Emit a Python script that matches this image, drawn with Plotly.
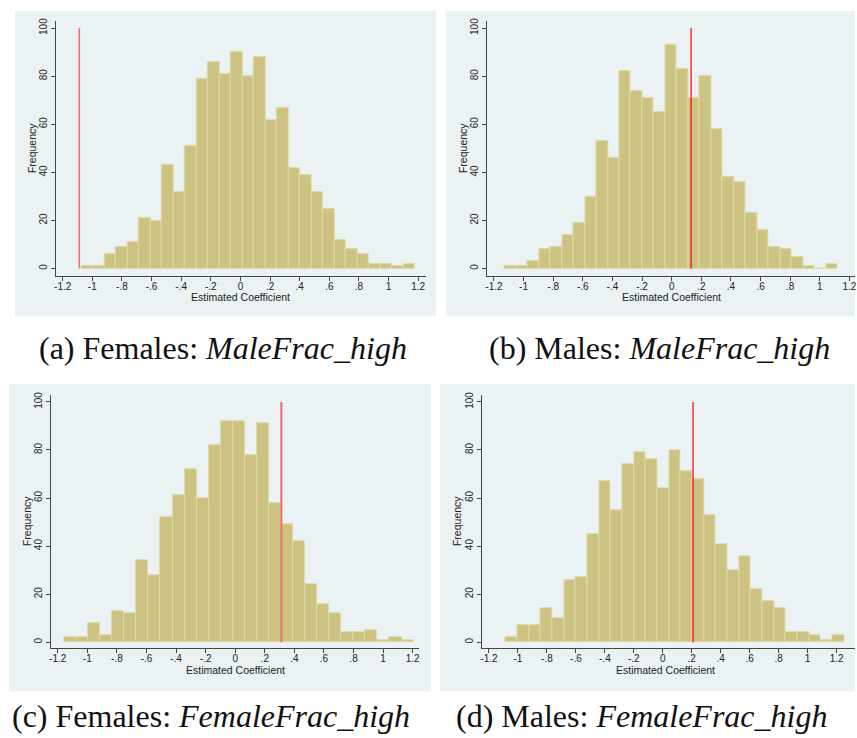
import plotly.graph_objects as go

W, H = 857, 738

# ---------------- data ----------------
counts_a = [1, 1, 6, 9, 11, 21, 20, 43, 32, 51, 79, 86, 81, 90, 80, 88, 62, 67, 42, 39,
            32, 25, 12, 8, 6, 2, 2, 1, 2]
counts_b = [1, 1, 3, 8, 9, 14, 19, 30, 53, 46, 82, 74, 71, 65, 93, 83, 71, 80, 58, 38,
            36, 23, 16, 9, 8, 5, 1, 0, 2]
counts_c = [2, 2, 8, 3, 13, 12, 34, 28, 52, 61, 72, 60, 82, 92, 92, 78, 91, 58, 49, 42,
            24, 16, 12, 4, 4, 5, 1, 2, 1]
counts_d = [2, 7, 7, 14, 10, 26, 27, 45, 67, 55, 74, 79, 76, 64, 80, 71, 68, 53, 41, 30,
            36, 22, 17, 14, 4, 4, 3, 1, 3]

bin_start = {"a": -1.072, "b": -1.128, "c": -1.157, "d": -1.085}
bin_width = {"a": 0.0776, "b": 0.0775, "c": 0.0815, "d": 0.0806}
true_value = {"a": -1.088, "b": 0.131, "c": 0.312, "d": 0.209}

x_tickvals = [-1.2, -1.0, -0.8, -0.6, -0.4, -0.2, 0.0, 0.2, 0.4, 0.6, 0.8, 1.0, 1.2]
x_ticktext = ["-1.2", "-1", "-.8", "-.6", "-.4", "-.2", "0", ".2", ".4", ".6", ".8", "1", "1.2"]
y_tickvals = [0, 20, 40, 60, 80, 100]
y_ticktext = ["0", "20", "40", "60", "80", "100"]

captions = {
    "a": "(a) Females: <i>MaleFrac_high</i>",
    "b": "(b) Males: <i>MaleFrac_high</i>",
    "c": "(c) Females: <i>FemaleFrac_high</i>",
    "d": "(d) Males: <i>FemaleFrac_high</i>",
}
x_title = "Estimated Coefficient"
y_title = "Frequency"

# ---------------- layout geometry (pixels) ----------------
panels = {
    "a": dict(bg=(13, 7, 436, 314), plot=(54, 17, 426, 273), xr=(-1.247, 1.253), yr=(-2.9, 103.0),
              ytitle=(30, 145), xtitle=(240, 295), cap=(222, 346),
              line_color="rgb(242,112,112)", line_w=1.6),
    "b": dict(bg=(446, 7, 857, 314), plot=(487.7, 17, 857, 273), xr=(-1.244, 1.2375), yr=(-2.9, 103.0),
              ytitle=(463, 145), xtitle=(673, 295), cap=(661, 346),
              line_color="rgb(255,0,0)", line_w=1.2),
    "c": dict(bg=(7, 382, 431, 691), plot=(49.3, 393.3, 419.3, 647.7), xr=(-1.245, 1.245), yr=(-2.48, 102.8),
              ytitle=(25, 520), xtitle=(235, 670), cap=(210, 716),
              line_color="rgb(240,105,105)", line_w=2.0),
    "d": dict(bg=(440, 382, 857, 691), plot=(482.7, 393.3, 857, 647.7), xr=(-1.245, 1.327), yr=(-2.48, 102.8),
              ytitle=(457, 520), xtitle=(667, 670), cap=(642, 716),
              line_color="rgb(255,0,0)", line_w=1.2),
}

counts = {"a": counts_a, "b": counts_b, "c": counts_c, "d": counts_d}

BAR_FILL = "rgb(204,195,130)"
BAR_EDGE = "rgb(224,218,168)"
AXIS_COL = "#444444"
GRID_COL = "#ECF2F3"
BG_COL = "#EAF2F3"
SANS = "Liberation Sans, Arial, sans-serif"
SERIF = "Liberation Serif, Times New Roman, serif"


def fx(px):
    return px / W


def fy(py):
    return 1 - py / H


fig = go.Figure()
shapes = []
annotations = []

for i, key in enumerate(["a", "b", "c", "d"]):
    p = panels[key]
    n = i + 1
    xa = "x" if n == 1 else f"x{n}"
    ya = "y" if n == 1 else f"y{n}"
    cnt = counts[key]
    w = bin_width[key]
    centers = [bin_start[key] + (k + 0.5) * w for k in range(len(cnt))]
    fig.add_trace(go.Bar(
        x=centers, y=cnt, width=w, xaxis=xa, yaxis=ya,
        marker=dict(color=BAR_FILL, line=dict(color=BAR_EDGE, width=1)),
        showlegend=False, hoverinfo="x+y",
    ))
    tv = true_value[key]
    fig.add_trace(go.Scatter(
        x=[tv, tv], y=[0, 100], mode="lines", xaxis=xa, yaxis=ya,
        line=dict(color=p["line_color"], width=p["line_w"]),
        showlegend=False, hoverinfo="skip",
    ))

    x0, y0, x1, y1 = p["plot"]
    axis_common = dict(
        showline=True, linecolor=AXIS_COL, linewidth=1, mirror=False,
        ticks="outside", ticklen=4, tickwidth=1, tickcolor=AXIS_COL,
        tickfont=dict(family=SANS, size=10, color="#222222"),
        zeroline=False, fixedrange=True, ticklabeloverflow="allow",
    )
    fig.update_layout(**{
        ("xaxis" if n == 1 else f"xaxis{n}"): dict(
            domain=[fx(x0), min(1.0, fx(x1))], anchor=ya, range=list(p["xr"]),
            tickmode="array", tickvals=x_tickvals, ticktext=x_ticktext,
            ticklabelstandoff=-3,
            showgrid=False, **axis_common),
        ("yaxis" if n == 1 else f"yaxis{n}"): dict(
            domain=[fy(y1), fy(y0)], anchor=xa, range=list(p["yr"]),
            tickmode="array", tickvals=y_tickvals, ticktext=y_ticktext, tickangle=-90,
            showgrid=True, gridcolor=GRID_COL, gridwidth=1, **axis_common),
    })

    bx0, by0, bx1, by1 = p["bg"]
    shapes.append(dict(type="rect", xref="paper", yref="paper", layer="below",
                       x0=fx(bx0), x1=fx(bx1), y0=fy(by1), y1=fy(by0),
                       fillcolor=BG_COL, line=dict(width=0)))

    annotations.append(dict(text=y_title, xref="paper", yref="paper",
                            x=fx(p["ytitle"][0]), y=fy(p["ytitle"][1]), textangle=-90,
                            showarrow=False, xanchor="center", yanchor="middle",
                            font=dict(family=SANS, size=10.5, color="#222222")))
    annotations.append(dict(text=x_title, xref="paper", yref="paper",
                            x=fx(p["xtitle"][0]), y=fy(p["xtitle"][1]),
                            showarrow=False, xanchor="center", yanchor="middle",
                            font=dict(family=SANS, size=10.5, color="#222222")))
    annotations.append(dict(text=captions[key], xref="paper", yref="paper",
                            x=fx(p["cap"][0]), y=fy(p["cap"][1]),
                            showarrow=False, xanchor="center", yanchor="middle",
                            font=dict(family=SERIF, size=32, color="#111111")))

fig.update_layout(
    width=W, height=H, margin=dict(l=0, r=0, t=0, b=0, pad=0),
    paper_bgcolor="white", plot_bgcolor="white",
    bargap=0, shapes=shapes, annotations=annotations, showlegend=False,
)

fig.write_html("out.html",
               config={"displayModeBar": False},
               post_script="document.body.style.margin='0';document.body.style.padding='0';"
                           "document.documentElement.style.overflow='hidden';")
